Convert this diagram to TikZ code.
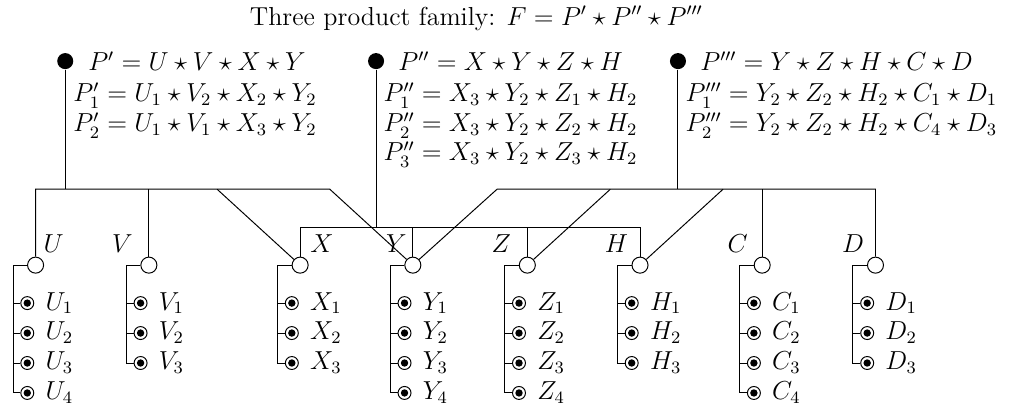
\documentclass[tikz,border=0pt,12pt]{standalone}
\usepackage{amsmath,amssymb}
\usepackage{tikz}
\usetikzlibrary{calc,positioning}
\tikzset{
  rootdot/.style={circle,fill=black,inner sep=0pt,minimum size=0.26cm},
  modnode/.style={circle,draw,fill=white,inner sep=0pt,minimum size=0.26cm},
  varnode/.style={circle,draw,inner sep=0pt,minimum size=0.21cm,
    path picture={\fill (path picture bounding box.center) circle (0.06cm);}},
  deftext/.style={anchor=west,inner sep=0pt},
  subtext/.style={deftext,text height=8pt,text depth=1.5pt}
}

\begin{document}
\begin{tikzpicture}[x=0.9615cm,y=0.9615cm,line width=0.45pt]
  \useasboundingbox (0,0) rectangle (17.23,-6.98);
  \node[inner sep=0pt] (title) at (8.03,-0.31) {Three product family: $F=P'\star P''\star P'''$};
  % the three products
  \node[rootdot] (P1) at (1.10,-1.03) {};
  \node[rootdot] (P2) at (6.34,-1.03) {};
  \node[rootdot] (P3) at (11.43,-1.03) {};
  \node[deftext] (P1-def) at (1.48,-1.03) {$P'=U\star V\star X\star Y$};
  \node[subtext] (P1-a) at (1.23,-1.60) {$P'_1=U_1\star V_2\star X_2\star Y_2$};
  \node[subtext] (P1-b) at (1.23,-2.10) {$P'_2=U_1\star V_1\star X_3\star Y_2$};
  \node[deftext] (P2-def) at (6.71,-1.03) {$P''=X\star Y\star Z\star H$};
  \node[subtext] (P2-a) at (6.46,-1.60) {$P''_1=X_3\star Y_2\star Z_1\star H_2$};
  \node[subtext] (P2-b) at (6.46,-2.10) {$P''_2=X_3\star Y_2\star Z_2\star H_2$};
  \node[subtext] (P2-c) at (6.46,-2.59) {$P''_3=X_3\star Y_2\star Z_3\star H_2$};
  \node[deftext] (P3-def) at (11.80,-1.03) {$P'''=Y\star Z\star H\star C\star D$};
  \node[subtext] (P3-a) at (11.55,-1.60) {$P'''_1=Y_2\star Z_2\star H_2\star C_1\star D_1$};
  \node[subtext] (P3-b) at (11.55,-2.10) {$P'''_2=Y_2\star Z_2\star H_2\star C_4\star D_3$};
  % modules with their variants
  \foreach \n/\x/\k/\a/\o in {U/0.60/4/west/-0.02, V/2.51/3/east/-0.12,
      X/5.06/3/west/0.02, Y/6.96/4/east/0.05, Z/8.89/4/east/-0.12,
      H/10.79/3/east/-0.05, C/12.85/4/east/-0.09, D/14.76/3/east/-0.04}{
    \node[modnode] (\n) at (\x,-4.47) {};
    \node[anchor=\a] (\n-lab) at ($(\n)+(\o,0.37)$) {$\n$};
    \coordinate (\n-stem) at ($(\n)+(-0.38,0)$);
    \foreach \i in {1,...,\k}{
      \node[varnode] (\n\i) at ($(\n)+(-0.14,{-0.135-0.505*\i})$) {};
      \node[right=1pt of \n\i] (\n\i-lab) {$\n_{\i}$};
      \draw (\n) -- (\n-stem) |- (\n\i);
    }
  }
  % P' bus
  \coordinate (busA) at (0,-3.19);
  \coordinate (busA-x) at (3.66,-3.19);
  \coordinate (busA-y) at (5.56,-3.19);
  \draw (P1) -- (P1 |- busA);
  \draw (U) -- (U |- busA) -- (busA-y) -- (Y);
  \draw (V) -- (V |- busA);
  \draw (busA-x) -- (X);
  % P'' bus
  \coordinate (busB) at (0,-3.83);
  \draw (P2) -- (P2 |- busB);
  \draw (X) -- (X |- busB) -- (H |- busB) -- (H);
  \draw (Y) -- (Y |- busB);
  \draw (Z) -- (Z |- busB);
  % P''' bus
  \coordinate (busC-y) at (8.38,-3.19);
  \coordinate (busC-z) at (10.29,-3.19);
  \coordinate (busC-h) at (12.19,-3.19);
  \draw (P3) -- (P3 |- busC-y);
  \draw (Y) -- (busC-y) -- (D |- busC-y) -- (D);
  \draw (busC-z) -- (Z);
  \draw (busC-h) -- (H);
  \draw (C) -- (C |- busC-y);
\end{tikzpicture}
\end{document}
